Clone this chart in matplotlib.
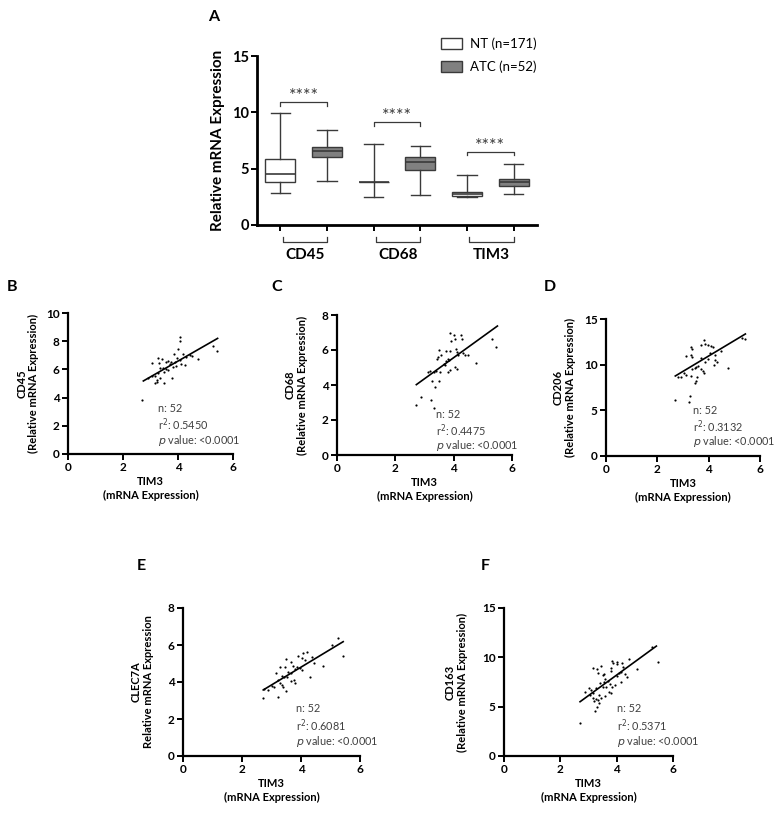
import numpy as np
import matplotlib
matplotlib.use('Agg')
import matplotlib.pyplot as plt
import matplotlib.transforms as mtransforms
from matplotlib.patches import Patch

plt.rcParams['font.family'] = ['Lato', 'DejaVu Sans']

# panel A box data (NT, ATC) for CD45, CD68, TIM3
genes = ['CD45', 'CD68', 'TIM3']
nt_low = [2.83, 2.45, 2.45]
nt_q1 = [3.81, 3.85, 2.54]
nt_med = [4.52, 3.85, 2.78]
nt_q3 = [5.90, 3.85, 2.95]
nt_high = [9.92, 7.20, 4.40]
atc_low = [3.87, 2.69, 2.75]
atc_q1 = [6.02, 4.84, 3.43]
atc_med = [6.58, 5.55, 3.81]
atc_q3 = [6.91, 6.02, 4.07]
atc_high = [8.39, 7.03, 5.43]
sig_y = [10.95, 9.18, 6.52]
legend_labels = ['NT (n=171)', 'ATC (n=52)']

# scatter panels: TIM3 vs marker
B_x = [4.06, 4.06, 4.00, 5.27, 5.43, 4.72, 3.28, 3.42, 3.07, 3.86, 4.18, 4.30, 4.42, 3.64, 3.76, 3.88, 3.70, 4.06, 4.12, 4.24,
       3.34, 3.46, 3.58, 3.64, 3.82, 3.94, 3.49, 3.28, 3.18, 3.34, 3.25, 3.22, 3.15, 2.91, 3.49, 3.78, 2.70, 3.30, 3.55, 3.95, 4.50, 3.05]
B_y = [8.32, 8.02, 7.45, 7.68, 7.33, 6.74, 6.83, 6.74, 6.43, 7.07, 7.07, 6.90, 7.02, 6.60, 6.55, 6.50, 6.36, 6.67, 6.36, 6.31,
       6.12, 6.08, 6.03, 5.96, 6.20, 6.27, 5.84, 5.72, 5.56, 5.37, 5.25, 5.13, 5.01, 5.41, 5.01, 5.41, 3.83, 6.45, 6.50, 6.80, 6.95, 5.50]
C_x = [3.86, 4.01, 4.03, 4.24, 4.29, 3.90, 5.31, 5.46, 3.49, 3.58, 3.46, 3.44, 3.75, 3.86, 4.09, 4.13, 4.15, 4.32, 4.38, 4.49, 3.80,
       3.75, 3.85, 3.67, 3.71, 4.78, 3.12, 3.18, 3.33, 3.41, 3.52, 3.81, 3.86, 4.06, 4.13, 3.26, 3.49, 3.37, 2.87, 3.21, 2.72, 3.33]
C_y = [6.99, 6.84, 6.65, 6.88, 6.61, 6.50, 6.61, 6.17, 5.98, 5.73, 5.60, 5.50, 5.92, 5.92, 6.08, 5.89, 5.70, 5.85, 5.70, 5.73, 5.50,
       5.40, 5.45, 5.22, 5.16, 5.28, 4.74, 4.78, 4.74, 4.78, 4.74, 4.74, 4.84, 5.03, 4.90, 4.21, 4.21, 3.89, 3.31, 3.12, 2.88, 2.69]
D_x = [3.82, 3.84, 3.71, 3.97, 4.08, 4.17, 3.30, 3.35, 3.13, 3.30, 3.35, 4.04, 4.23, 4.47, 5.43, 5.30, 3.71, 3.97, 3.84, 4.23, 4.34,
       4.21, 4.75, 3.58, 3.45, 3.52, 3.69, 3.78, 3.82, 3.35, 3.04, 3.13, 2.80, 2.93, 3.32, 3.56, 3.52, 3.45, 2.70, 3.26, 3.22]
D_y = [12.70, 12.27, 12.16, 12.16, 12.05, 11.90, 11.90, 11.68, 10.95, 11.06, 10.88, 11.30, 11.06, 11.54, 12.78, 12.90, 10.70, 10.60,
       10.33, 10.50, 10.30, 9.97, 9.60, 9.86, 9.60, 9.70, 9.50, 9.35, 9.13, 9.50, 9.13, 8.87, 8.69, 8.69, 8.76, 8.69, 8.25, 8.03,
       6.14, 6.60, 5.90]
E_x = [5.26, 5.06, 5.43, 4.19, 4.08, 3.89, 4.02, 4.13, 4.36, 4.45, 3.48, 3.66, 4.76, 3.29, 3.46, 3.74, 3.85, 3.80, 3.97, 4.02, 3.14,
       3.57, 3.66, 3.34, 3.43, 3.51, 4.30, 3.66, 3.77, 3.80, 3.23, 3.29, 3.34, 3.40, 3.10, 3.00, 3.48, 2.89, 2.76, 3.21, 2.72]
E_y = [6.36, 6.00, 5.40, 5.64, 5.55, 5.40, 5.28, 5.19, 5.37, 5.01, 5.22, 5.10, 4.86, 4.83, 4.83, 4.86, 4.79, 4.68, 4.74, 4.65, 4.50,
       4.56, 4.47, 4.32, 4.25, 4.29, 4.25, 4.07, 4.11, 3.96, 4.11, 3.93, 3.84, 3.75, 3.71, 3.78, 3.53, 3.57, 3.60, 3.21, 3.12]
F_x = [5.25, 5.47, 3.83, 3.86, 4.01, 4.01, 4.19, 4.21, 4.45, 4.72, 3.15, 3.30, 3.46, 3.81, 3.81, 3.34, 3.50, 3.54, 4.07, 4.17, 4.31,
       4.37, 4.01, 3.60, 3.54, 3.69, 3.77, 3.83, 3.95, 3.42, 3.50, 3.62, 4.17, 3.27, 3.01, 3.10, 2.89, 3.15, 3.72, 3.81, 3.38, 3.60,
       3.46, 3.07, 3.15, 3.27, 3.18, 3.34, 3.36, 3.30, 3.24, 2.70]
F_y = [11.00, 9.55, 9.66, 9.39, 9.55, 9.32, 9.39, 9.05, 9.79, 8.78, 8.88, 8.78, 9.12, 8.88, 8.64, 8.37, 8.20, 8.30, 8.37, 8.54, 8.30,
       8.03, 8.10, 7.76, 7.53, 7.63, 7.29, 7.02, 7.19, 7.36, 7.02, 6.95, 7.53, 6.85, 6.85, 6.68, 6.51, 6.34, 6.51, 6.34, 6.17, 6.07,
       5.84, 6.17, 5.84, 5.74, 5.60, 5.67, 5.33, 5.00, 4.59, 3.30]

# regression line ends
B_fit_x = [2.74, 5.44]; B_fit_y = [5.18, 8.20]
C_fit_x = [2.72, 5.50]; C_fit_y = [4.02, 7.37]
D_fit_x = [2.70, 5.43]; D_fit_y = [8.76, 13.36]
E_fit_x = [2.72, 5.43]; E_fit_y = [3.57, 6.18]
F_fit_x = [2.70, 5.41]; F_fit_y = [5.50, 11.14]

B_stats = ['n: 52', '0.5450']
C_stats = ['n: 52', '0.4475']
D_stats = ['n: 52', '0.3132']
E_stats = ['n: 52', '0.6081']
F_stats = ['n: 52', '0.5371']

W, H = 778, 819
fig = plt.figure(figsize=(W / 100, H / 100), dpi=100)


def px_axes(left, right, top, bottom):
    return fig.add_axes([left / W, 1 - bottom / H, (right - left) / W, (bottom - top) / H])


def style(ax, size):
    for s in ['top', 'right']:
        ax.spines[s].set_visible(False)
    for s in ['left', 'bottom']:
        ax.spines[s].set_linewidth(1.6)
    ax.tick_params(width=1.4, length=4, labelsize=size, pad=2)
    for lab in ax.get_xticklabels() + ax.get_yticklabels():
        lab.set_fontweight('bold')


# ---------- panel A ----------
axA = px_axes(257, 537, 56, 225)
pos = np.arange(6)
stats = []
for i in range(3):
    stats.append(dict(whislo=nt_low[i], q1=nt_q1[i], med=nt_med[i], q3=nt_q3[i], whishi=nt_high[i], fliers=[]))
    stats.append(dict(whislo=atc_low[i], q1=atc_q1[i], med=atc_med[i], q3=atc_q3[i], whishi=atc_high[i], fliers=[]))
edge = '#3a3a3a'
bp = axA.bxp(stats, positions=pos, widths=0.64, patch_artist=True, showfliers=False,
             boxprops=dict(edgecolor=edge, linewidth=1.0),
             whiskerprops=dict(color=edge, linewidth=1.0),
             capprops=dict(color=edge, linewidth=1.0),
             medianprops=dict(color=edge, linewidth=1.2), capwidths=0.42)
for j, b in enumerate(bp['boxes']):
    b.set_facecolor('white' if j % 2 == 0 else '#808080')
axA.set_xlim(-0.5, 5.5)
axA.set_ylim(0, 15)
axA.set_yticks([0, 5, 10, 15])
axA.set_xticks(pos)
axA.set_xticklabels([])
style(axA, 10.5)
axA.spines['left'].set_linewidth(2)
axA.spines['bottom'].set_linewidth(2)
axA.set_ylabel('Relative mRNA Expression', fontsize=11, fontweight='bold', labelpad=5)

trans = mtransforms.blended_transform_factory(axA.transData, axA.transAxes)
for i in range(3):
    x0, x1 = pos[2 * i], pos[2 * i + 1]
    y = sig_y[i]
    axA.plot([x0, x0, x1, x1], [y - 0.35, y, y, y - 0.35], color=edge, lw=0.9)
    axA.text((x0 + x1) / 2, y - 0.25, '****', ha='center', va='bottom', fontsize=13, color=edge)
    axA.plot([x0 + 0.05, x0 + 0.05, x1, x1], [-0.071, -0.10, -0.10, -0.071], color=edge, lw=0.9,
             transform=trans, clip_on=False)
    axA.text((x0 + x1) / 2 + 0.03, -0.18, genes[i], ha='center', va='center', fontsize=11,
             fontweight='bold', transform=trans)

handles = [Patch(facecolor='white', edgecolor=edge, lw=1.0), Patch(facecolor='#808080', edgecolor=edge, lw=1.0)]
fig.legend(handles, legend_labels, loc='upper left', bbox_to_anchor=(429 / W, 1 - 26 / H), frameon=False,
           fontsize=9.5, handlelength=1.6, handleheight=0.9, labelspacing=0.75, handletextpad=0.6)
fig.text(214 / W, 1 - 17 / H, 'A', fontsize=11.5, fontweight='bold', ha='center', va='center')


# ---------- scatter panels ----------
def scatter_panel(box, xs, ys, fx, fy, ymax, yticks, ylab, st, tpos, letter, lpos, ypad):
    ax = px_axes(*box)
    ax.scatter(xs, ys, s=2.5, color='black', linewidths=0)
    ax.plot(fx, fy, color='black', lw=1.2)
    ax.set_xlim(0, 6)
    ax.set_ylim(0, ymax)
    ax.set_xticks([0, 2, 4, 6])
    ax.set_yticks(yticks)
    style(ax, 8.5)
    ax.set_ylabel(ylab, fontsize=8, fontweight='bold', labelpad=ypad, linespacing=1.1)
    ax.set_xlabel('TIM3\n(mRNA Expression)', fontsize=8, fontweight='bold', labelpad=2, linespacing=1.3)
    tx, ty = tpos
    ax.text(tx, ty, st[0], transform=ax.transAxes, fontsize=7.8, color='#404040', va='center')
    ax.text(tx, ty - 0.115, 'r$^{2}$: ' + st[1], transform=ax.transAxes, fontsize=7.8, color='#404040', va='center')
    ax.text(tx, ty - 0.225, '$p$ value: <0.0001', transform=ax.transAxes, fontsize=7.8, color='#404040', va='center')
    fig.text(lpos[0] / W, 1 - lpos[1] / H, letter, fontsize=11.5, fontweight='bold', ha='center', va='center')
    return ax


scatter_panel((68, 233, 313, 454), B_x, B_y, B_fit_x, B_fit_y, 10, [0, 2, 4, 6, 8, 10],
              'CD45\n(Relative mRNA Expression)', B_stats, (0.545, 0.32), 'B', (12, 287), 5)
scatter_panel((337, 512, 315, 455), C_x, C_y, C_fit_x, C_fit_y, 8, [0, 2, 4, 6, 8],
              'CD68\n(Relative mRNA Expression)', C_stats, (0.566, 0.29), 'C', (277, 287), 10)
scatter_panel((606, 760, 319, 456), D_x, D_y, D_fit_x, D_fit_y, 15, [0, 5, 10, 15],
              'CD206\n(Relative mRNA Expression)', D_stats, (0.565, 0.33), 'D', (550, 287), 6)
scatter_panel((183, 360, 608, 756), E_x, E_y, E_fit_x, E_fit_y, 8, [0, 2, 4, 6, 8],
              'CLEC7A\nRelative mRNA Expression', E_stats, (0.638, 0.32), 'E', (141, 566), 10)
scatter_panel((504, 673, 608, 756), F_x, F_y, F_fit_x, F_fit_y, 15, [0, 5, 10, 15],
              'CD163\n(Relative mRNA Expression)', F_stats, (0.667, 0.32), 'F', (485, 566), 10)

fig.savefig('out.png', dpi=100)
